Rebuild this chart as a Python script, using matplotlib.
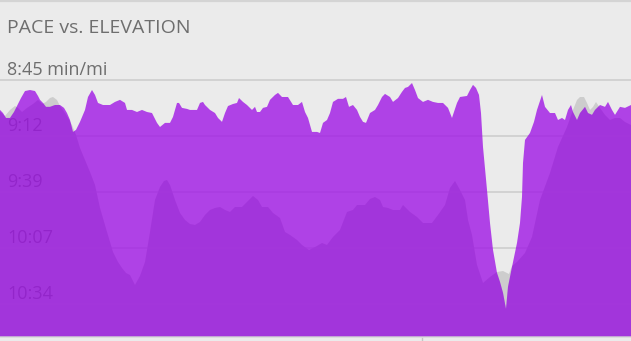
import matplotlib
matplotlib.use("Agg")
import matplotlib.pyplot as plt
from matplotlib.lines import Line2D
import numpy as np

# pace (sec per mile) by distance (mi)
pace_dist = [0.000, 0.015, 0.030, 0.050, 0.070, 0.090, 0.105, 0.125, 0.150, 0.175,
             0.190, 0.200, 0.215, 0.230, 0.250, 0.275, 0.300, 0.320, 0.335, 0.350,
             0.365, 0.380, 0.400, 0.425, 0.440, 0.460, 0.475, 0.490, 0.515, 0.550,
             0.575, 0.600, 0.625, 0.635, 0.660, 0.685, 0.710, 0.735, 0.760, 0.785,
             0.800, 0.825, 0.850, 0.865, 0.885, 0.895, 0.910, 0.935, 0.950, 0.985,
             1.000, 1.015, 1.025, 1.050, 1.075, 1.090, 1.110, 1.125, 1.140, 1.165,
             1.185, 1.195, 1.215, 1.235, 1.260, 1.275, 1.285, 1.300, 1.315, 1.335,
             1.350, 1.375, 1.390, 1.410, 1.440, 1.465, 1.490, 1.510, 1.525, 1.540,
             1.560, 1.585, 1.600, 1.615, 1.635, 1.650, 1.665, 1.690, 1.715, 1.730,
             1.745, 1.765, 1.785, 1.800, 1.815, 1.830, 1.850, 1.875, 1.890, 1.910,
             1.925, 1.950, 1.965, 1.990, 2.010, 2.025, 2.040, 2.060, 2.075, 2.090,
             2.115, 2.140, 2.165, 2.190, 2.215, 2.240, 2.260, 2.265, 2.285, 2.300,
             2.335, 2.350, 2.365, 2.380, 2.395, 2.405, 2.415, 2.435, 2.450, 2.465,
             2.485, 2.500, 2.515, 2.530, 2.540, 2.560, 2.585, 2.600, 2.610, 2.615,
             2.625, 2.650, 2.670, 2.685, 2.710, 2.725, 2.750, 2.775, 2.790, 2.810,
             2.825, 2.840, 2.855, 2.865, 2.885, 2.900, 2.925, 2.940, 2.960, 2.975,
             3.000, 3.025, 3.040, 3.060, 3.075, 3.100, 3.125, 3.155]
pace_sec = [539.6, 541.1, 543.5, 543.5, 540.6, 536.7, 533.8, 530.4, 529.9, 530.4,
            532.8, 534.7, 536.2, 538.1, 538.1, 537.2, 537.2, 538.6, 541.1, 544.5,
            550.3, 549.3, 545.4, 539.6, 533.3, 529.9, 532.3, 536.2, 537.2, 537.2,
            535.7, 534.7, 536.2, 539.6, 539.6, 540.6, 539.6, 540.6, 541.1, 545.9,
            547.9, 545.9, 545.9, 543.0, 536.2, 536.2, 538.6, 539.1, 539.6, 539.6,
            536.2, 535.7, 537.2, 539.6, 541.1, 543.5, 545.4, 541.1, 537.7, 536.7,
            536.2, 533.8, 535.7, 537.2, 539.6, 538.1, 540.6, 540.6, 538.6, 538.1,
            534.7, 532.3, 531.3, 533.3, 533.3, 537.2, 537.2, 535.7, 540.6, 543.5,
            550.3, 550.3, 550.8, 545.9, 544.5, 541.1, 535.7, 534.2, 534.2, 533.3,
            538.1, 537.2, 539.6, 543.0, 545.4, 545.9, 541.1, 539.6, 537.2, 533.3,
            531.8, 533.3, 535.7, 533.8, 530.8, 528.9, 528.4, 526.5, 529.9, 533.8,
            535.7, 534.7, 535.7, 536.2, 536.2, 538.6, 543.5, 542.0, 536.2, 533.3,
            532.8, 529.9, 527.4, 528.9, 532.3, 541.1, 557.6, 578.5, 594.6, 607.7,
            618.9, 623.3, 628.6, 636.4, 625.7, 616.0, 604.3, 594.6, 581.9, 565.4,
            554.2, 550.8, 545.4, 539.6, 532.3, 538.1, 541.1, 541.1, 544.5, 543.5,
            544.5, 539.6, 537.2, 540.6, 544.5, 541.1, 538.1, 541.1, 542.0, 539.6,
            537.2, 538.1, 535.7, 539.6, 542.0, 538.1, 538.6, 537.2]

# elevation (ft) by distance (mi)
elev_dist = [0.000, 0.025, 0.050, 0.075, 0.090, 0.110, 0.135, 0.165, 0.190, 0.210,
             0.230, 0.250, 0.265, 0.285, 0.300, 0.315, 0.340, 0.360, 0.380, 0.400,
             0.425, 0.450, 0.475, 0.500, 0.535, 0.565, 0.590, 0.610, 0.630, 0.650,
             0.675, 0.700, 0.725, 0.750, 0.775, 0.800, 0.820, 0.835, 0.850, 0.875,
             0.900, 0.925, 0.950, 0.975, 1.000, 1.025, 1.050, 1.075, 1.100, 1.125,
             1.150, 1.175, 1.210, 1.235, 1.265, 1.290, 1.310, 1.340, 1.365, 1.400,
             1.425, 1.450, 1.485, 1.510, 1.545, 1.585, 1.610, 1.635, 1.665, 1.700,
             1.735, 1.765, 1.785, 1.825, 1.850, 1.875, 1.900, 1.915, 1.940, 1.965,
             2.000, 2.015, 2.050, 2.085, 2.115, 2.160, 2.190, 2.225, 2.250, 2.275,
             2.300, 2.325, 2.340, 2.360, 2.385, 2.415, 2.450, 2.485, 2.515, 2.545,
             2.560, 2.585, 2.625, 2.660, 2.700, 2.750, 2.790, 2.835, 2.865, 2.885,
             2.900, 2.920, 2.935, 2.950, 2.965, 2.980, 3.000, 3.025, 3.050, 3.075,
             3.100, 3.125, 3.155]
elev_ft = [525, 521, 527, 531, 529, 525, 529, 533, 537, 533,
           535, 539, 540, 537, 531, 527, 519, 512, 502, 489,
           477, 465, 452, 429, 405, 385, 375, 369, 364, 362,
           352, 361, 375, 405, 437, 450, 456, 457, 452, 437,
           424, 417, 413, 412, 415, 422, 427, 429, 430, 427,
           425, 430, 430, 435, 441, 437, 430, 430, 424, 419,
           405, 402, 397, 392, 387, 391, 394, 392, 400, 407,
           425, 427, 432, 432, 438, 440, 437, 430, 429, 427,
           427, 432, 425, 420, 414, 414, 422, 432, 449, 456,
           447, 437, 417, 402, 372, 354, 360, 365, 366, 363,
           371, 375, 384, 400, 437, 464, 490, 510, 527, 537,
           540, 540, 534, 527, 530, 535, 529, 522, 517, 519,
           519, 515, 512]

tick_pace = np.linspace(525, 634, 5)
tick_labels = ["8:45 min/mi", "9:12", "9:39", "10:07", "10:34"]
lap_marks = [2.11]

bg = "#ebebeb"
purple = "#a118e5"
txt = "#6e6e6e"
font = "Open Sans"

fig = plt.figure(figsize=(6.31, 3.41), dpi=100, facecolor=bg)
ax = fig.add_axes([0, 4 / 341, 1, 337 / 341])
ax_e = ax.twinx()
ax.set_zorder(ax_e.get_zorder() + 1)
ax.patch.set_visible(False)
ax_e.patch.set_visible(False)

pace_lim = (650.1, 486.1)
elev_lim = (300, 637)

# elevation behind everything
ax_e.fill_between(elev_dist, elev_ft, elev_lim[0], color="#cdcdcd", lw=0)

for t in tick_pace:
    ax.axhline(t, color="#d2d2d2", lw=1.4, zorder=1)
for t, lab in zip(tick_pace, tick_labels):
    ax.annotate(lab, xy=(0, t), xycoords=("axes fraction", "data"),
                xytext=(7, 5), textcoords="offset pixels", va="baseline",
                fontsize=13, color=txt, family=font, zorder=1.5)

pace_fill = ax.fill_between(pace_dist, pace_sec, pace_lim[0], color=purple,
                            alpha=0.8, lw=0, zorder=2)

# darker where elevation sits under the pace area
dark = ax.fill_between(elev_dist, elev_ft, elev_lim[0], transform=ax_e.transData,
                       color="#8010c0", alpha=0.15, lw=0, zorder=3)
dark.set_clip_path(pace_fill.get_paths()[0], ax.transData)

ax.set_xlim(0, 3.155)
ax_e.set_xlim(0, 3.155)
ax.set_ylim(*pace_lim)
ax_e.set_ylim(*elev_lim)

for a in (ax, ax_e):
    for s in a.spines.values():
        s.set_visible(False)
    a.set_yticks([])
ax.spines["bottom"].set_visible(True)
ax.spines["bottom"].set_color("#d9d9d9")
ax.spines["bottom"].set_linewidth(1.2)
ax.set_xticks(lap_marks)
ax.set_xticklabels([])
ax.tick_params(axis="x", length=4, color="#c4c4c4", width=1)
ax_e.tick_params(axis="x", length=0)

fig.add_artist(Line2D([0, 1], [1 - 0.8 / 341, 1 - 0.8 / 341], color="#d4d4d4", lw=1.6))
fig.text(7 / 631, 1 - 33 / 341, "PACE vs. ELEVATION", va="baseline", ha="left",
         fontsize=14, color=txt, family=font)

fig.savefig("out.png", dpi=100, facecolor=bg)
